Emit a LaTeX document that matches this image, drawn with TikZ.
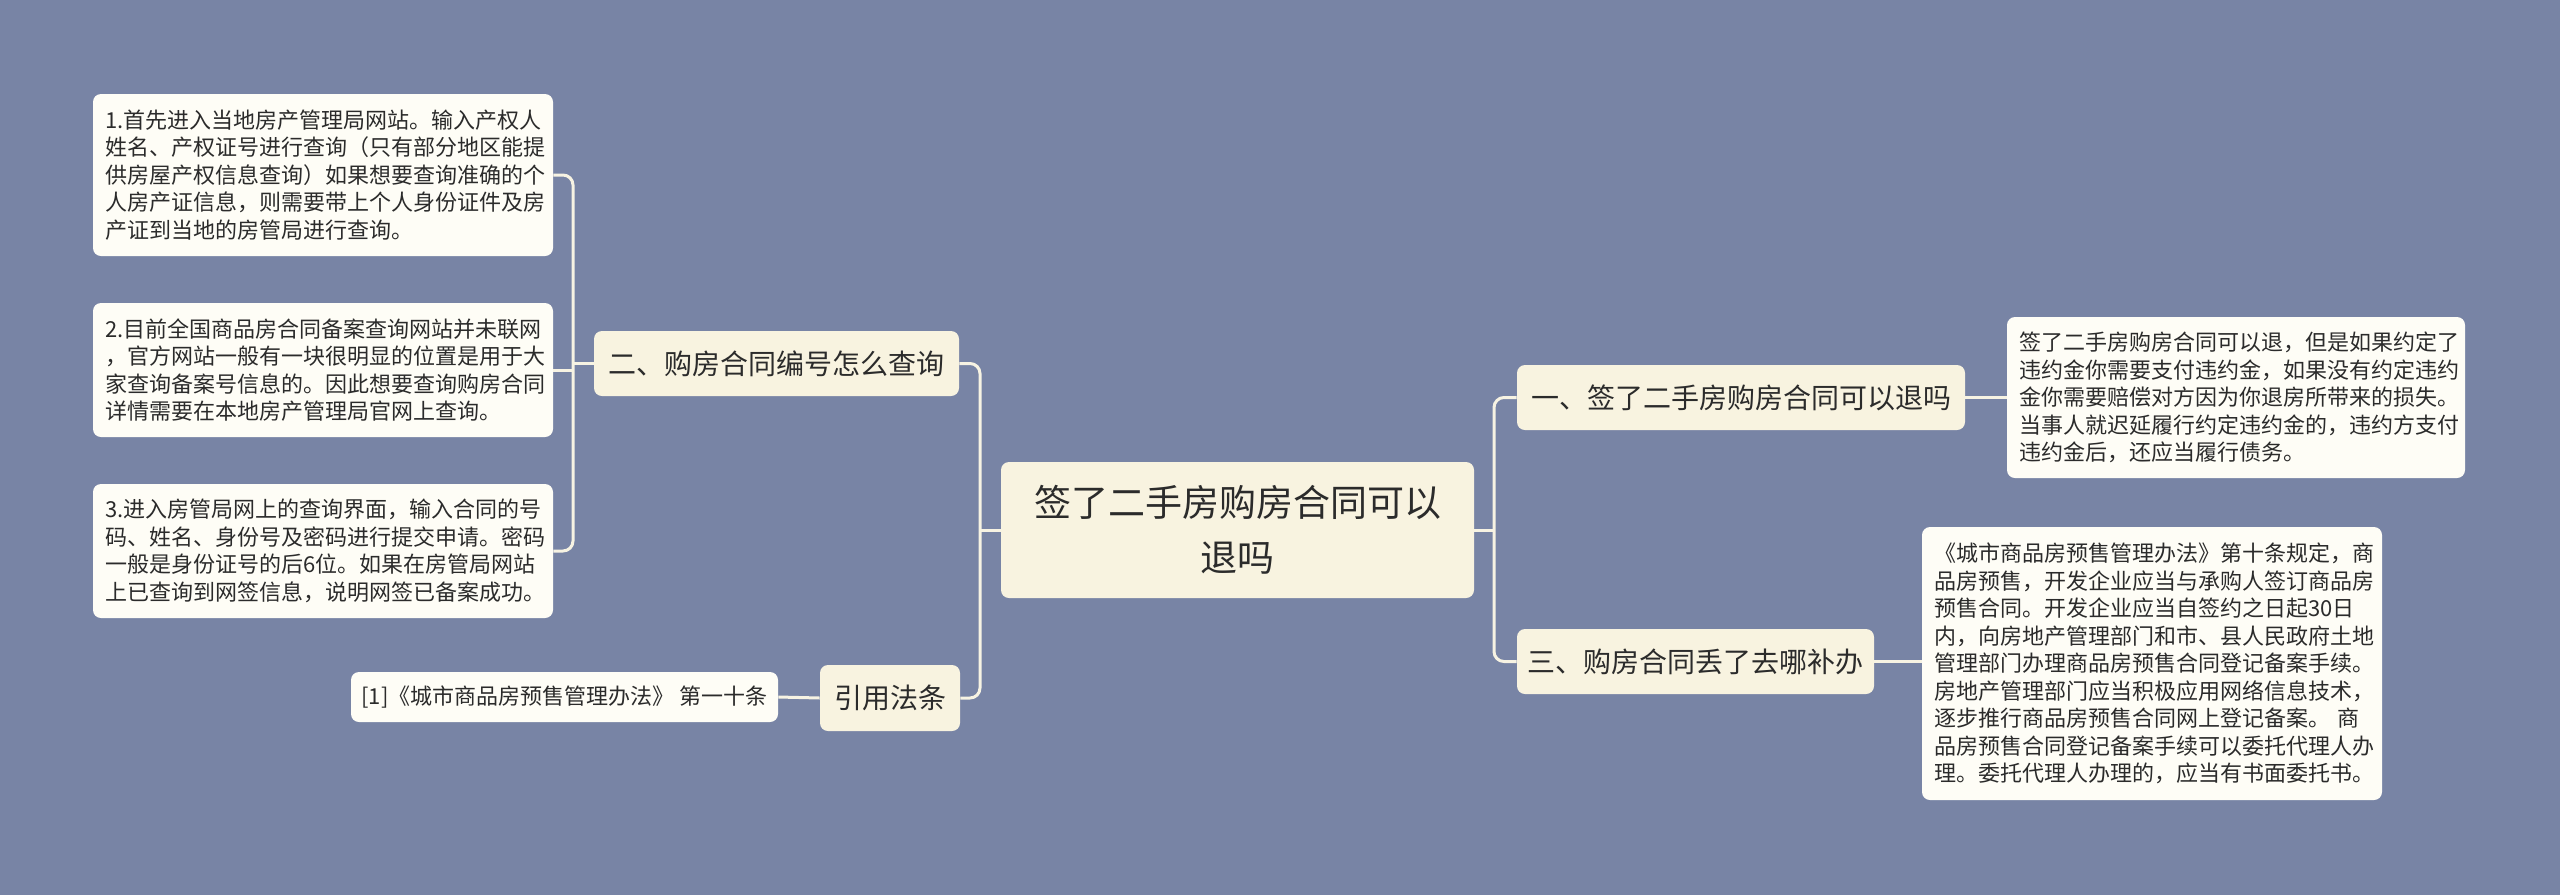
\documentclass[tikz,border=0pt]{standalone}
\usepackage{fontspec}
\setmainfont{Noto Sans CJK SC}
\definecolor{bgc}{HTML}{7884A5}
\definecolor{mainfill}{HTML}{F8F3E0}
\definecolor{leaffill}{HTML}{FEFDF6}
\definecolor{linec}{HTML}{F7F3E3}
\definecolor{txt}{HTML}{2B2B2B}
\tikzset{
  base/.style={rounded corners=4pt, inner sep=0pt, text=txt, anchor=center},
  centerbox/.style={base, fill=mainfill, align=center, font=\fontsize{18.5pt}{27.5pt}\selectfont},
  branchbox/.style={base, fill=mainfill, align=center, font=\fontsize{14pt}{17pt}\selectfont},
  leafbox/.style={base, fill=leaffill, align=left, font=\fontsize{11pt}{13.75pt}\selectfont},
  conn/.style={draw=linec, line width=1.5pt, rounded corners=5pt}
}
\begin{document}
\begin{tikzpicture}[x=0.5pt,y=-0.5pt]
\useasboundingbox[fill=bgc] (0,0) rectangle (2560,895);

% center
\node[centerbox, minimum width=236.5pt, minimum height=68pt] (ctr) at (1237.5,530)
  {签了二手房购房合同可以\\退吗};

% branches
\node[branchbox, minimum width=182.5pt, minimum height=32.5pt] (b2) at (776.5,363.5) {二、购房合同编号怎么查询};
\node[branchbox, minimum width=70pt, minimum height=33pt] (cite) at (890,698) {引用法条};
\node[branchbox, minimum width=224pt, minimum height=32.5pt] (b1) at (1741,397.5) {一、签了二手房购房合同可以退吗};
\node[branchbox, minimum width=178.5pt, minimum height=32.5pt] (b3) at (1695.5,661.5) {三、购房合同丢了去哪补办};

% leaves left
\node[leafbox, text width=218pt, inner xsep=6pt, minimum height=81pt] (L1) at (323,175)
  {1.首先进入当地房产管理局网站。输入产权人\\姓名、产权证号进行查询（只有部分地区能提\\供房屋产权信息查询）如果想要查询准确的个\\人房产证信息，则需要带上个人身份证件及房\\产证到当地的房管局进行查询。};
\node[leafbox, text width=218pt, inner xsep=6pt, minimum height=67pt] (L2) at (323,370)
  {2.目前全国商品房合同备案查询网站并未联网\\，官方网站一般有一块很明显的位置是用于大\\家查询备案号信息的。因此想要查询购房合同\\详情需要在本地房产管理局官网上查询。};
\node[leafbox, text width=218pt, inner xsep=6pt, minimum height=67pt] (L3) at (323,551)
  {3.进入房管局网上的查询界面，输入合同的号\\码、姓名、身份号及密码进行提交申请。密码\\一般是身份证号的后6位。如果在房管局网站\\上已查询到网签信息，说明网签已备案成功。};
\node[leafbox, align=center, minimum width=213.5pt, minimum height=25pt] (C1) at (564.5,697)
  {[1]《城市商品房预售管理办法》\ 第一十条};

% leaves right
\node[leafbox, text width=217pt, inner xsep=6pt, minimum height=80.5pt] (R1) at (2236,397.5)
  {签了二手房购房合同可以退，但是如果约定了\\违约金你需要支付违约金，如果没有约定违约\\金你需要赔偿对方因为你退房所带来的损失。\\当事人就迟延履行约定违约金的，违约方支付\\违约金后，还应当履行债务。};
\node[leafbox, text width=218pt, inner xsep=6pt, minimum height=136.5pt] (R2) at (2152,663.5)
  {《城市商品房预售管理办法》第十条规定，商\\品房预售，开发企业应当与承购人签订商品房\\预售合同。开发企业应当自签约之日起30日\\内，向房地产管理部门和市、县人民政府土地\\管理部门办理商品房预售合同登记备案手续。\\房地产管理部门应当积极应用网络信息技术，\\逐步推行商品房预售合同网上登记备案。 商\\品房预售合同登记备案手续可以委托代理人办\\理。委托代理人办理的，应当有书面委托书。};

% junction coordinates
\coordinate (jl) at (980,530);
\coordinate (jl2) at (573,363.5);
\coordinate (jr) at (1494,530);

% connectors
\draw[conn] (ctr.west) -- (jl);
\draw[conn] (b2.east) -| (jl) |- (cite.east);
\draw[conn] (b2.west) -- (jl2);
\draw[conn] (L1.east) -| (jl2) |- (L3.east);
\draw[conn] (L2.east) -- (L2.east -| jl2);
\draw[conn] (cite.west) -- (C1.east);
\draw[conn] (ctr.east) -- (jr);
\draw[conn] (b1.west) -| (jr) |- (b3.west);
\draw[conn] (b1.east) -- (b1.east -| R1.west);
\draw[conn] (b3.east) -- (b3.east -| R2.west);
\end{tikzpicture}
\end{document}
